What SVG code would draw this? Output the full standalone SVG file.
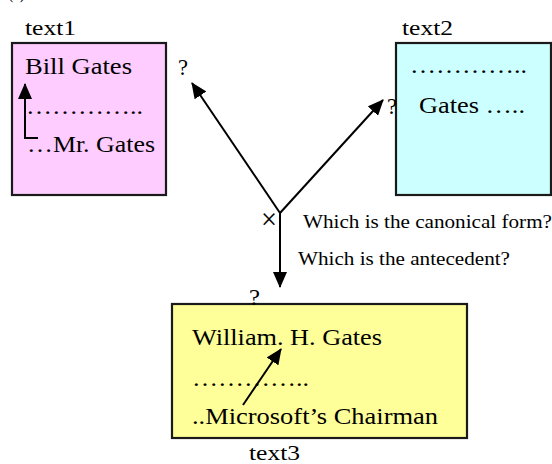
<svg xmlns="http://www.w3.org/2000/svg" width="552" height="464" viewBox="0 0 552 464">
<style>
text{font-family:"Liberation Serif","Times New Roman",serif;fill:#000}
.c{font-size:23.5px}
.l{font-size:22px}
.q{font-size:19.5px}
.qm{font-size:23px}
.box{stroke:#1a1a1a;stroke-width:2.2}
.ln{stroke:#000;stroke-width:2;fill:none}
</style>
<defs>
<marker id="ah" markerUnits="userSpaceOnUse" markerWidth="16" markerHeight="14" refX="15" refY="7" orient="auto">
<path d="M0,0 L16,7 L0,14 z" fill="#000"/>
</marker>
</defs>
<text class="l" x="8" y="-2" textLength="17" lengthAdjust="spacingAndGlyphs">(a)</text>
<g id="text1">
<rect class="box" x="12" y="43" width="154" height="152" fill="#FFCCFF"/>
<text class="l" x="25" y="35" textLength="51" lengthAdjust="spacingAndGlyphs">text1</text>
<text class="c" x="25" y="74" textLength="107" lengthAdjust="spacingAndGlyphs">Bill Gates</text>
<text class="c" x="26" y="114" textLength="117" lengthAdjust="spacingAndGlyphs">…………..</text>
<text class="c" x="27" y="152" textLength="128" lengthAdjust="spacingAndGlyphs">…Mr. Gates</text>
<path class="ln" d="M38,138 H25 V84" marker-end="url(#ah)"/>
</g>
<g id="text2">
<rect class="box" x="396" y="43" width="155" height="152" fill="#CCFFFF"/>
<text class="l" x="402" y="35" textLength="51" lengthAdjust="spacingAndGlyphs">text2</text>
<text class="c" x="410" y="73" textLength="117" lengthAdjust="spacingAndGlyphs">…………..</text>
<text class="c" x="419" y="113" textLength="106" lengthAdjust="spacingAndGlyphs">Gates …..</text>
</g>
<g id="text3">
<rect class="box" x="172" y="304" width="295" height="134" fill="#FFFF99"/>
<text class="l" x="249" y="460" textLength="51" lengthAdjust="spacingAndGlyphs">text3</text>
<text class="c" x="192" y="345" textLength="190" lengthAdjust="spacingAndGlyphs">William. H. Gates</text>
<text class="c" x="192" y="386" textLength="117" lengthAdjust="spacingAndGlyphs">…………..</text>
<text class="c" x="192" y="424" textLength="246" lengthAdjust="spacingAndGlyphs">..Microsoft’s Chairman</text>
<path class="ln" d="M243,405 L281,349" marker-end="url(#ah)"/>
</g>
<g id="connectors">
<path class="ln" d="M280,213 L192,83" marker-end="url(#ah)"/>
<path class="ln" d="M280,213 L383,100" marker-end="url(#ah)"/>
<path class="ln" d="M280,213 L280,287" marker-end="url(#ah)"/>
</g>
<g id="labels">
<text class="qm" x="178" y="75" textLength="10" lengthAdjust="spacingAndGlyphs">?</text>
<text class="qm" x="387" y="114" textLength="10" lengthAdjust="spacingAndGlyphs">?</text>
<text class="qm" x="249" y="305" textLength="11" lengthAdjust="spacingAndGlyphs">?</text>
<text style="font-size:30px" x="261" y="229" textLength="16" lengthAdjust="spacingAndGlyphs">×</text>
<text class="q" x="303" y="228" textLength="249" lengthAdjust="spacingAndGlyphs">Which is the canonical form?</text>
<text class="q" x="298" y="265" textLength="212" lengthAdjust="spacingAndGlyphs">Which is the antecedent?</text>
</g>
</svg>
